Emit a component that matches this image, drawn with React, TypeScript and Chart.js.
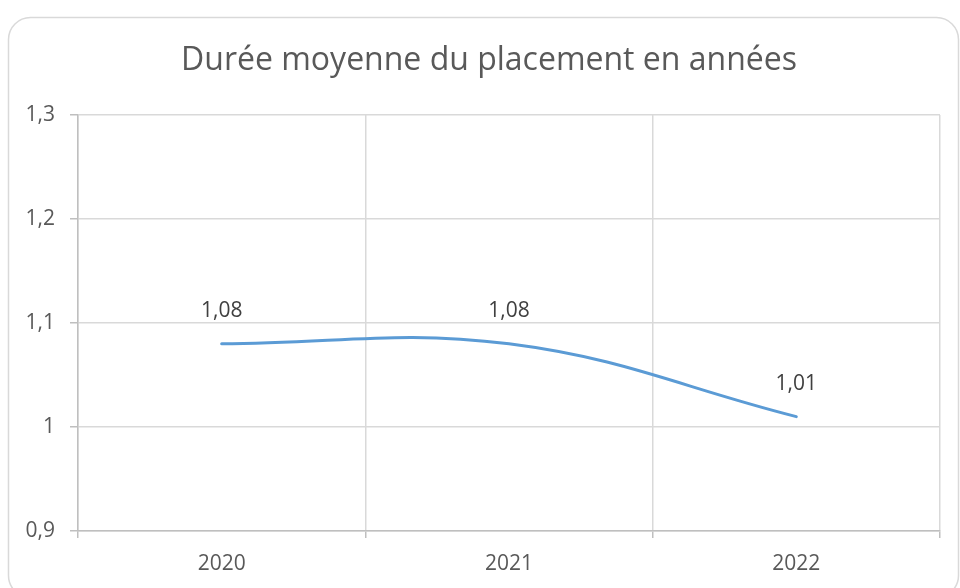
import React, { useEffect, useRef } from "react";
import { Chart, registerables } from "chart.js";

Chart.register(...registerables);

const title = "Durée moyenne du placement en années";
const categories = ["2020", "2021", "2022"];
const values = [1.08, 1.08, 1.01];
const valueLabels = ["1,08", "1,08", "1,01"];
const yTicks = [0.9, 1.0, 1.1, 1.2, 1.3];
const yTickLabels = ["0,9", "1", "1,1", "1,2", "1,3"];

const FONT = "'Open Sans', 'Noto Sans', sans-serif";

const framePlugin = {
  id: "frame",
  beforeDraw(chart: any) {
    const ctx = chart.ctx;
    ctx.save();
    ctx.fillStyle = "#ffffff";
    ctx.fillRect(0, 0, chart.width, chart.height);
    ctx.strokeStyle = "#d9d9d9";
    ctx.lineWidth = 1.5;
    ctx.beginPath();
    (ctx as any).roundRect(8.5, 17.5, 950, 580, 22);
    ctx.stroke();
    ctx.fillStyle = "#595959";
    ctx.font = `32px ${FONT}`;
    ctx.textAlign = "center";
    ctx.textBaseline = "middle";
    ctx.fillText(title, 489, 61);
    ctx.restore();
  },
  afterDatasetsDraw(chart: any) {
    const ctx = chart.ctx;
    const meta = chart.getDatasetMeta(0);
    ctx.save();
    ctx.fillStyle = "#404040";
    ctx.font = `21px ${FONT}`;
    ctx.textAlign = "center";
    ctx.textBaseline = "middle";
    meta.data.forEach((el: any, i: number) => {
      ctx.fillText(valueLabels[i], el.x, el.y - 33);
    });
    ctx.restore();
  },
};

export default function App() {
  const ref = useRef<HTMLCanvasElement>(null);
  useEffect(() => {
    document.body.style.margin = "0";
    const chart = new Chart(ref.current!, {
      type: "line",
      data: {
        labels: categories,
        datasets: [
          {
            data: values,
            borderColor: "#5b9bd5",
            borderWidth: 3,
            tension: 0.4,
            pointRadius: 0,
            borderCapStyle: "round",
            fill: false,
          },
        ],
      },
      options: {
        animation: false,
        responsive: false,
        maintainAspectRatio: false,
        layout: { padding: { left: 8, right: 20, top: 115, bottom: 0 } },
        plugins: {
          legend: { display: false },
          title: { display: false },
          tooltip: { enabled: false },
        },
        scales: {
          x: {
            offset: true,
            grid: {
              offset: true,
              color: "#d9d9d9",
              lineWidth: 1.5,
              tickLength: 7,
              tickColor: "#bfbfbf",
            },
            border: { color: "#bfbfbf", width: 1.5 },
            ticks: {
              color: "#595959",
              font: { family: FONT, size: 21 },
              padding: 13,
              maxRotation: 0,
            },
            afterFit(scale: any) {
              scale.height = 57;
            },
          },
          y: {
            min: 0.9,
            max: 1.3,
            afterBuildTicks(scale: any) {
              scale.ticks = yTicks.map((v) => ({ value: v }));
            },
            grid: {
              color: "#d9d9d9",
              lineWidth: 1.5,
              tickLength: 8,
              tickColor: "#bfbfbf",
            },
            border: { color: "#bfbfbf", width: 1.5 },
            ticks: {
              color: "#595959",
              font: { family: FONT, size: 21 },
              padding: 15,
              callback: (_v: any, i: number) => yTickLabels[i],
            },
            afterFit(scale: any) {
              scale.width = 70;
            },
          },
        },
      },
      plugins: [framePlugin],
    });
    return () => chart.destroy();
  }, []);
  return <canvas ref={ref} width={960} height={588} style={{ display: "block" }} />;
}
